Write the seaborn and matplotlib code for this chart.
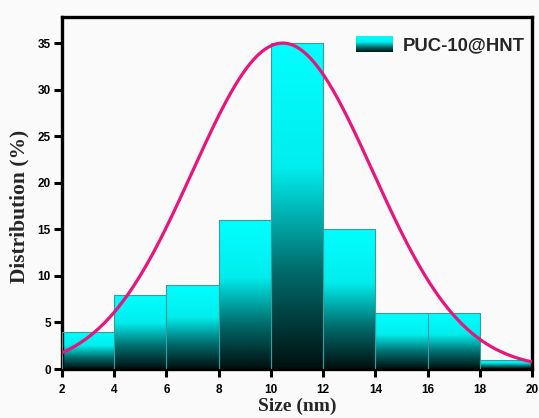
import numpy as np
import pandas as pd
import matplotlib
matplotlib.use("Agg")
import matplotlib.pyplot as plt
import seaborn as sns
from matplotlib.colors import LinearSegmentedColormap
from matplotlib.patches import Patch

# ---- data ----
bin_edges = [2, 4, 6, 8, 10, 12, 14, 16, 18, 20]
bin_centers = [3, 5, 7, 9, 11, 13, 15, 17, 19]
distribution = [4, 8, 9, 16, 35, 15, 6, 6, 1]
series_name = "PUC-10@HNT"
x_ticks = [2, 4, 6, 8, 10, 12, 14, 16, 18, 20]
y_ticks = [0, 5, 10, 15, 20, 25, 30, 35]
# Gaussian fit parameters
fit_peak = 35.0
fit_mu = 10.45
fit_sigma = 3.45

df = pd.DataFrame({"size": bin_centers, "dist": distribution})

sns.set_style("ticks")
plt.rcParams["font.family"] = ["Liberation Sans", "DejaVu Sans"]
plt.rcParams["font.weight"] = "bold"

fig = plt.figure(figsize=(5.39, 4.18), dpi=100, facecolor="#fafafa")
ax = fig.add_axes([62 / 539, 49 / 418, 470 / 539, 352 / 418])
ax.set_facecolor("#fafafa")

sns.histplot(data=df, x="size", weights="dist", bins=bin_edges, ax=ax,
             stat="count", facecolor="none", edgecolor="#3a9c9c",
             linewidth=0.8, alpha=1, zorder=3)

cmap = LinearSegmentedColormap.from_list(
    "cyan_grad",
    [(0.0, (0.0, 0.06, 0.06)), (0.3, (0.0, 0.42, 0.42)),
     (0.62, (0.0, 0.93, 0.93)), (1.0, (0.0, 1.0, 1.0))])
grad = np.linspace(0, 1, 256).reshape(-1, 1)
for p in list(ax.patches):
    x0, y0 = p.get_x(), p.get_y()
    w, h = p.get_width(), p.get_height()
    if h <= 0:
        continue
    im = ax.imshow(grad, cmap=cmap, origin="lower", aspect="auto",
                   extent=[x0, x0 + w, y0, y0 + h], zorder=2,
                   interpolation="bilinear")
    im.set_clip_path(p)

xs = np.linspace(2, 20, 400)
ys = fit_peak * np.exp(-(xs - fit_mu) ** 2 / (2 * fit_sigma ** 2))
sns.lineplot(x=xs, y=ys, ax=ax, color="#e8157c", linewidth=2.3, zorder=4)

ax.set_xlim(2, 20)
ax.set_ylim(0, 37.8)
ax.set_xticks(x_ticks)
ax.set_yticks(y_ticks)
ax.tick_params(axis="both", direction="out", length=6, width=2.2,
               labelsize=8.5, colors="black")
ax.tick_params(axis="y", pad=2)
ax.tick_params(axis="x", pad=5)
for lab in ax.get_xticklabels() + ax.get_yticklabels():
    lab.set_fontweight("bold")
for s in ax.spines.values():
    s.set_visible(True)
    s.set_linewidth(2.4)
    s.set_color("black")

ax.set_xlabel("Size (nm)", family=["Liberation Serif"], fontweight="bold",
              fontsize=14, labelpad=1)
ax.set_ylabel("Distribution (%)", family=["Liberation Serif"], fontweight="bold",
              fontsize=15.5)
ax.yaxis.set_label_coords(-0.070, 0.463)

handle = Patch(facecolor="#00ffff", edgecolor="#3a9c9c", linewidth=0.8)
leg = ax.legend([handle], [series_name], loc="upper right",
                bbox_to_anchor=(1.0, 0.968), frameon=False,
                prop={"weight": "bold", "size": 13.3}, handlelength=1.95,
                handleheight=0.95, handletextpad=0.55, borderaxespad=0)

fig.canvas.draw()
hp = leg.legend_handles[0]
bb = hp.get_window_extent(fig.canvas.get_renderer())
W, H = fig.bbox.width, fig.bbox.height
lax = fig.add_axes([bb.x0 / W, bb.y0 / H, bb.width / W, bb.height / H])
lax.imshow(grad, cmap=cmap, origin="lower", aspect="auto",
           interpolation="bilinear")
lax.set_axis_off()
hp.set_visible(False)

fig.savefig("out.png", dpi=100, facecolor=fig.get_facecolor())
